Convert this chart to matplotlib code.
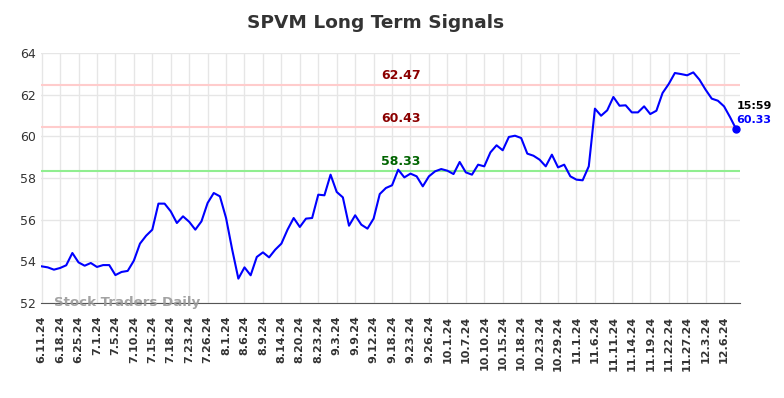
import matplotlib
matplotlib.use("Agg")
import matplotlib.pyplot as plt
import numpy as np

# ---------------------------------------------------------------- data
tick_labels = ["6.11.24", "6.18.24", "6.25.24", "7.1.24", "7.5.24", "7.10.24",
               "7.15.24", "7.18.24", "7.23.24", "7.26.24", "8.1.24", "8.6.24",
               "8.9.24", "8.14.24", "8.20.24", "8.23.24", "9.3.24", "9.9.24",
               "9.12.24", "9.18.24", "9.23.24", "9.26.24", "10.1.24", "10.7.24",
               "10.10.24", "10.15.24", "10.18.24", "10.23.24", "10.29.24", "11.1.24",
               "11.6.24", "11.11.24", "11.14.24", "11.19.24", "11.22.24", "11.27.24",
               "12.3.24", "12.6.24"]

prices = [
    53.76, 53.71, 53.60, 53.68, 53.81, 54.40, 53.95, 53.79, 53.92, 53.73,
    53.82, 53.82, 53.34, 53.49, 53.54, 54.03, 54.85, 55.23, 55.52, 56.77,
    56.77, 56.40, 55.84, 56.16, 55.90, 55.52, 55.92, 56.80, 57.28, 57.12,
    56.08, 54.56, 53.17, 53.71, 53.33, 54.21, 54.43, 54.19, 54.56, 54.85,
    55.52, 56.08, 55.65, 56.05, 56.08, 57.20, 57.17, 58.16, 57.33, 57.07,
    55.71, 56.21, 55.76, 55.57, 56.05, 57.23, 57.52, 57.65, 58.40, 58.03,
    58.21, 58.08, 57.60, 58.08, 58.32, 58.43, 58.35, 58.19, 58.77, 58.27,
    58.16, 58.64, 58.56, 59.23, 59.57, 59.33, 59.97, 60.03, 59.92, 59.17,
    59.07, 58.88, 58.56, 59.12, 58.51, 58.64, 58.08, 57.92, 57.89, 58.56,
    61.33, 60.99, 61.25, 61.89, 61.47, 61.49, 61.15, 61.15, 61.44, 61.07,
    61.23, 62.08, 62.51, 63.04, 62.99, 62.93, 63.07, 62.72, 62.24, 61.81,
    61.71, 61.44, 60.91, 60.33,
]

resistance_levels = [62.47, 60.43]
support_levels = [58.33]
last_time = "15:59"

# ---------------------------------------------------------------- figure
fig = plt.figure(figsize=(7.84, 3.98), dpi=100)
ax = fig.add_axes([0.0523, 0.2387, 0.8916, 0.6281])

x = np.arange(len(prices))
ax.plot(x, prices, color="blue", lw=1.5, zorder=3)
ax.plot(x[-1], prices[-1], "o", color="blue", ms=5, zorder=4)

label_x = 58.4
for lvl in resistance_levels:
    ax.axhline(lvl, color="#ffcccc", lw=1.5, zorder=2)
    ax.annotate(f"{lvl:.2f}", (label_x, lvl), xytext=(0, 2), textcoords="offset points",
                ha="center", va="bottom", color="#8b0000", fontsize=9, fontweight="bold")
for lvl in support_levels:
    ax.axhline(lvl, color="#90ee90", lw=1.5, zorder=2)
    ax.annotate(f"{lvl:.2f}", (label_x, lvl), xytext=(0, 2), textcoords="offset points",
                ha="center", va="bottom", color="#006400", fontsize=9, fontweight="bold")

ax.annotate(last_time, (x[-1], prices[-1]), xytext=(0, 17), textcoords="offset points",
            ha="left", va="center", color="black", fontsize=8, fontweight="bold")
ax.annotate(f"{prices[-1]:.2f}", (x[-1], prices[-1]), xytext=(0, 7), textcoords="offset points",
            ha="left", va="center", color="blue", fontsize=8, fontweight="bold")

ax.text(2, 52.0, "Stock Traders Daily", color="#999999", fontsize=9.6,
        fontweight="bold", va="center", ha="left", zorder=5, alpha=0.9)

ax.set_xlim(-0.1, 113.6)
ax.set_ylim(52, 64)
ax.set_yticks(np.arange(52, 65, 2))
ax.set_xticks(np.arange(0, 3 * len(tick_labels), 3))
ax.set_xticklabels(tick_labels, rotation=90, fontsize=8, fontweight="bold")
ax.tick_params(axis="y", labelsize=9, colors="#333333", length=0)
ax.tick_params(axis="x", colors="#333333", length=0, pad=9)
ax.grid(True, color="#e6e6e6", lw=1)
for s in ["top", "right", "left"]:
    ax.spines[s].set_visible(False)
ax.spines["bottom"].set_color("#555555")

fig.suptitle("SPVM Long Term Signals", x=0.479, y=0.965, fontsize=13.3,
             fontweight="bold", color="#333333")

fig.savefig("out.png", dpi=100)
